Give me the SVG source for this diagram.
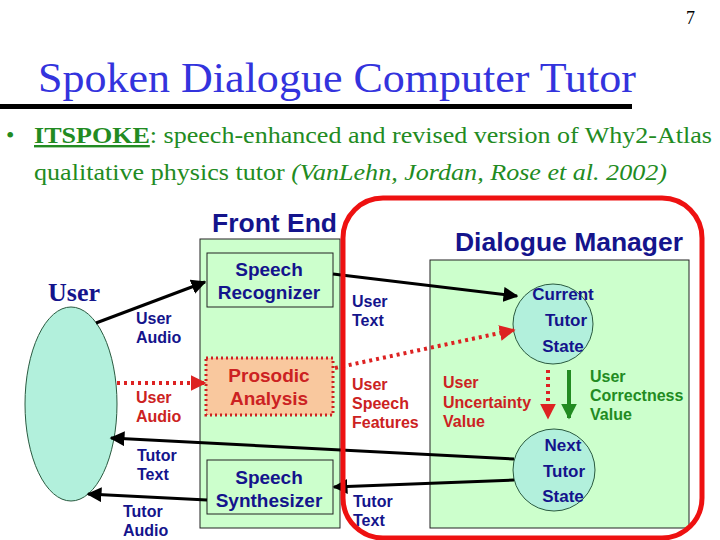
<svg xmlns="http://www.w3.org/2000/svg" width="720" height="540" viewBox="0 0 720 540">
<style>
.title{font-family:"Liberation Serif",serif;font-size:42px;fill:#3333dd}
.body{font-family:"Liberation Serif",serif;font-size:24px;fill:#228b22}
.hdr{font-family:"Liberation Sans",Arial,sans-serif;font-weight:bold;font-size:25px;fill:#14148c}
.box{fill:#ccffcc;stroke:#222;stroke-width:1}
.node{font-family:"Liberation Sans",Arial,sans-serif;font-weight:bold;font-size:19px;fill:#14148c;text-anchor:middle}
.cn{font-size:17px}
.lbl{font-family:"Liberation Sans",Arial,sans-serif;font-weight:bold;font-size:16px;fill:#14148c}
.red{fill:#cc2222}
.grn{fill:#228b22}
.circ{fill:#b2f0dc;stroke:#2a5a40;stroke-width:1}
.bl{stroke:#000;stroke-width:3;fill:none}
.rd{stroke:#dd2222;stroke-width:4;stroke-dasharray:3 4;fill:none}
.gr{stroke:#228b22;stroke-width:4;fill:none}
</style>
<defs>
<marker id="ab" viewBox="0 0 10 10" refX="9" refY="5" markerWidth="5" markerHeight="5" orient="auto" markerUnits="strokeWidth"><path d="M0,0 L10,5 L0,10 z" fill="#000"/></marker>
<marker id="ar" viewBox="0 0 10 10" refX="9" refY="5" markerWidth="4" markerHeight="4" orient="auto" markerUnits="strokeWidth"><path d="M0,0 L10,5 L0,10 z" fill="#dd2222"/></marker>
<marker id="ag" viewBox="0 0 10 10" refX="9" refY="5" markerWidth="4" markerHeight="4" orient="auto" markerUnits="strokeWidth"><path d="M0,0 L10,5 L0,10 z" fill="#228b22"/></marker>
</defs>
<rect width="720" height="540" fill="#fff"/>
<text x="686" y="24" font-family="Liberation Serif,serif" font-size="18" fill="#000">7</text>
<text class="title" x="38" y="92" textLength="598" lengthAdjust="spacingAndGlyphs">Spoken Dialogue Computer Tutor</text>
<rect x="0" y="104" width="632" height="5" fill="#000"/>
<g class="body">
<text x="6" y="143" fill="#228b22">•</text>
<text x="34" y="143" textLength="678" lengthAdjust="spacingAndGlyphs"><tspan font-weight="bold" text-decoration="underline">ITSPOKE</tspan>: speech-enhanced and revised version of Why2-Atlas</text>
<text x="34" y="180" textLength="633" lengthAdjust="spacingAndGlyphs">qualitative physics tutor <tspan font-style="italic">(VanLehn, Jordan, Rose et al. 2002)</tspan></text>
</g>

<g id="user">
<text x="48" y="301" font-family="Liberation Serif,serif" font-weight="bold" font-size="26" fill="#14148c">User</text>
<ellipse cx="71" cy="404" rx="46" ry="97" class="circ"/>
</g>

<g id="front-end">
<rect x="200" y="239" width="140" height="289" class="box"/>
<text class="hdr" x="212" y="232" textLength="125" lengthAdjust="spacingAndGlyphs">Front End</text>
</g>
<g id="speech-recognizer">
<rect x="207" y="253" width="126" height="54" class="box"/>
<text class="node" x="269" y="276">Speech</text>
<text class="node" x="269" y="299">Recognizer</text>
</g>
<g id="prosodic-analysis">
<rect x="206" y="358" width="127" height="57" fill="#f9c89e" stroke="#cc2222" stroke-width="3" stroke-dasharray="2 3"/>
<text class="node" x="269" y="382" style="fill:#cc2222">Prosodic</text>
<text class="node" x="269" y="405" style="fill:#cc2222">Analysis</text>
</g>
<g id="speech-synthesizer">
<rect x="207" y="460" width="126" height="54" class="box"/>
<text class="node" x="269" y="484">Speech</text>
<text class="node" x="269" y="507">Synthesizer</text>
</g>

<g id="dialogue-manager">
<rect x="430" y="260" width="259" height="268" class="box"/>
<text class="hdr" x="455" y="251" textLength="228" lengthAdjust="spacingAndGlyphs">Dialogue Manager</text>
</g>
<g id="current-tutor-state">
<circle cx="553" cy="324" r="40" class="circ"/>
<text class="node cn" x="563" y="300">Current</text>
<text class="node cn" x="566" y="326">Tutor</text>
<text class="node cn" x="563" y="352">State</text>
</g>
<g id="next-tutor-state">
<circle cx="554" cy="470" r="41" class="circ"/>
<text class="node cn" x="563" y="451">Next</text>
<text class="node cn" x="564" y="477">Tutor</text>
<text class="node cn" x="563" y="502">State</text>
</g>

<g id="connectors">
<line class="bl" x1="96" y1="323" x2="205" y2="282" marker-end="url(#ab)"/>
<line class="bl" x1="333" y1="274" x2="517" y2="296" marker-end="url(#ab)"/>
<line class="rd" x1="117" y1="383" x2="205" y2="383" marker-end="url(#ar)"/>
<line class="rd" x1="335" y1="368" x2="514" y2="330" marker-end="url(#ar)"/>
<line class="bl" x1="514" y1="459" x2="111" y2="438" marker-end="url(#ab)"/>
<line class="bl" x1="514" y1="480" x2="334" y2="487" marker-end="url(#ab)"/>
<line class="bl" x1="207" y1="500" x2="88" y2="494" marker-end="url(#ab)"/>
<line class="rd" x1="548" y1="370" x2="548" y2="418" marker-end="url(#ar)"/>
<line class="gr" x1="569" y1="370" x2="569" y2="418" marker-end="url(#ag)"/>
</g>

<g id="labels">
<text class="lbl" x="136" y="324">User</text>
<text class="lbl" x="136" y="343">Audio</text>
<text class="lbl red" x="136" y="403">User</text>
<text class="lbl red" x="136" y="422">Audio</text>
<text class="lbl" x="137" y="461">Tutor</text>
<text class="lbl" x="137" y="480">Text</text>
<text class="lbl" x="123" y="517">Tutor</text>
<text class="lbl" x="123" y="536">Audio</text>
<text class="lbl" x="352" y="307">User</text>
<text class="lbl" x="352" y="326">Text</text>
<text class="lbl red" x="352" y="390">User</text>
<text class="lbl red" x="352" y="409">Speech</text>
<text class="lbl red" x="352" y="428">Features</text>
<text class="lbl" x="353" y="507">Tutor</text>
<text class="lbl" x="353" y="526">Text</text>
<text class="lbl red" x="443" y="388">User</text>
<text class="lbl red" x="443" y="408">Uncertainty</text>
<text class="lbl red" x="443" y="427">Value</text>
<text class="lbl grn" x="590" y="382">User</text>
<text class="lbl grn" x="590" y="401">Correctness</text>
<text class="lbl grn" x="590" y="420">Value</text>
</g>

<rect x="343" y="198" width="359" height="340" rx="40" ry="40" fill="none" stroke="#ee1111" stroke-width="5"/>
</svg>
